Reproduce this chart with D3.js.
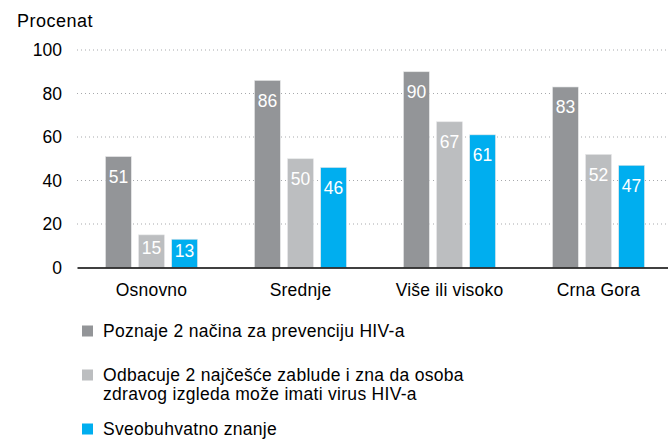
<!DOCTYPE html>
<html>
<head>
<meta charset="utf-8">
<script src="https://cdn.jsdelivr.net/npm/d3@7"></script>
<style>
  body { margin: 0; background: #fff; }
  text { font-family: "Liberation Sans", Arial, sans-serif; }
</style>
</head>
<body>
<svg width="668" height="440"></svg>
<script>
// Data
var categories = ["Osnovno", "Srednje", "Više ili visoko", "Crna Gora"];
var seriesNames = [
  "Poznaje 2 načina za prevenciju HIV-a",
  "Odbacuje 2 najčešće zablude i zna da osoba zdravog izgleda može imati virus HIV-a",
  "Sveobuhvatno znanje"
];
var prevencija = [51, 86, 90, 83];
var zablude = [15, 50, 67, 52];
var sveobuhvatno = [13, 46, 61, 47];
var yTicks = [0, 20, 40, 60, 80, 100];
var colors = ["#939598", "#bcbec0", "#00aeef"];

var series = [prevencija, zablude, sveobuhvatno];

var svg = d3.select("svg");

var x = d3.scaleBand()
    .domain(categories)
    .range([77, 673])
    .padding(0);

var y = d3.scaleLinear()
    .domain([0, 100])
    .range([267.5, 50]);

var inner = d3.scaleBand()
    .domain(d3.range(series.length))
    .range([x.bandwidth() / 2 - 46, x.bandwidth() / 2 + 46])
    .paddingInner(0.22);

// title
svg.append("text")
    .attr("x", 17)
    .attr("y", 27)
    .attr("font-size", 18)
    .attr("letter-spacing", 0.5)
    .attr("fill", "#000")
    .text("Procenat");

// gridlines
svg.append("g")
    .selectAll("line")
    .data(yTicks.filter(function (d) { return d > 0; }))
    .enter()
    .append("line")
    .attr("x1", 77)
    .attr("x2", 668)
    .attr("y1", function (d) { return y(d); })
    .attr("y2", function (d) { return y(d); })
    .attr("stroke", "#a7a9ac")
    .attr("stroke-width", 1)
    .attr("stroke-dasharray", "1,3");

// y axis labels
var yAxis = d3.axisLeft(y).tickValues(yTicks).tickSize(0).tickPadding(0);
var gy = svg.append("g")
    .attr("transform", "translate(62,0)")
    .call(yAxis);
gy.select(".domain").remove();
gy.selectAll("text")
    .attr("font-size", 17.5)
    .attr("fill", "#000")
    .attr("font-family", "Liberation Sans, Arial, sans-serif");

// bars
series.forEach(function (vals, i) {
  var g = svg.append("g");
  g.selectAll("rect")
      .data(vals)
      .enter()
      .append("rect")
      .attr("x", function (d, j) { return x(categories[j]) + inner(i); })
      .attr("y", function (d) { return y(d); })
      .attr("width", inner.bandwidth())
      .attr("height", function (d) { return y(0) - y(d); })
      .attr("fill", colors[i])
      .attr("stroke", "#e6e7e8")
      .attr("stroke-width", 0.6);

  g.selectAll("text")
      .data(vals)
      .enter()
      .append("text")
      .attr("x", function (d, j) { return x(categories[j]) + inner(i) + inner.bandwidth() / 2; })
      .attr("y", function (d) {
        var top = y(d);
        return Math.min(top + 20, (top + y(0)) / 2 - 3);
      })
      .attr("dy", "0.36em")
      .attr("text-anchor", "middle")
      .attr("font-size", 17.5)
      .attr("fill", "#fff")
      .text(function (d) { return d; });
});

// x axis
var xAxis = d3.axisBottom(x).tickSize(0).tickPadding(0);
var gx = svg.append("g")
    .attr("transform", "translate(0," + y(0) + ")")
    .call(xAxis);
gx.select(".domain")
    .attr("stroke", "#000")
    .attr("stroke-width", 1.5);
gx.selectAll("text")
    .attr("font-size", 17.5)
    .attr("letter-spacing", 0.2)
    .attr("fill", "#000")
    .attr("font-family", "Liberation Sans, Arial, sans-serif")
    .attr("y", 28)
    .attr("dy", 0);

// legend
var legendRows = [
  { lines: [seriesNames[0]], y: 331 },
  { lines: ["Odbacuje 2 najčešće zablude i zna da osoba", "zdravog izgleda može imati virus HIV-a"], y: 375 },
  { lines: [seriesNames[2]], y: 429 }
];
var legend = svg.append("g");
legendRows.forEach(function (row, i) {
  legend.append("rect")
      .attr("x", 82)
      .attr("y", row.y - 5.5)
      .attr("width", 11)
      .attr("height", 11)
      .attr("fill", colors[i]);
  var t = legend.append("text")
      .attr("x", 103)
      .attr("y", row.y)
      .attr("font-size", 17.5)
      .attr("letter-spacing", 0.3)
      .attr("fill", "#000");
  row.lines.forEach(function (l, k) {
    t.append("tspan")
        .attr("x", 103)
        .attr("dy", k === 0 ? "0.36em" : 19)
        .text(l);
  });
});
</script>
</body>
</html>
